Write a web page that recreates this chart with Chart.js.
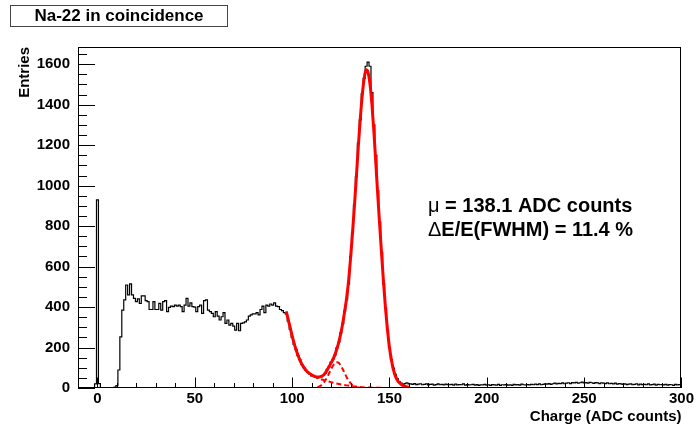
<!DOCTYPE html>
<html><head><meta charset="utf-8">
<script src="https://cdn.jsdelivr.net/npm/chart.js@4.4.1/dist/chart.umd.min.js"></script>
<style>html,body{margin:0;padding:0;background:#fff;}#wrap{width:696px;height:428px;}</style>
</head><body><div id="wrap"><canvas id="c" width="696" height="428"></canvas></div>
<script>
// ---------- data ----------
const xMin = -10, xMax = 300, yMax = 1685;
const xTickLabels = [0, 50, 100, 150, 200, 250, 300];
const yTickLabels = [0, 200, 400, 600, 800, 1000, 1200, 1400, 1600];
// histogram counts, 1 ADC-count bins, bin centres -10 ... 96
const countsLow = [0,0,0,0,0,0,0,0,0, 20,930,22, 0,0,0,0,0,0,0,4,
 12,89,253,385,435,509,460,515,460,443,
 427,440,418,455,455,432,427,388,388,427,
 388,388,418,385,427,432,377,398,405,402,
 410,405,410,402,377,410,443,405,421,402,
 400,377,402,410,369,432,435,385,377,369,
 352,377,355,336,352,372,319,336,311,319,
 306,286,319,283,319,322,327,336,355,361,
 366,366,372,361,388,405,372,410,405,415,
 410,421,405,402,388,382,372];
// bin centres 97 ... 160
const countsPeak = [365,330,290,250,215,190,160,140,115,100,
 88,78,70,60,58,52,50,55,56,64,
 72,92,105,128,142,162,198,226,272,318,
 380,436,515,650,765,905,1045,1210,1325,1455,
 1530,1590,1610,1590,1460,1300,1150,975,820,670,
 515,395,285,200,140,98,68,46,32,24,
 18,22,26,20];
// bin centres 161 ... 300
const countsTail = [20,18,22,17,19,21,16,18,20,15,
 18,19,14,17,20,16,18,15,19,17,
 16,18,14,19,15,17,16,20,14,17,
 15,16,18,14,17,13,16,15,18,14,
 16,13,17,15,14,18,13,16,15,17,
 14,16,13,18,15,17,14,19,16,15,
 17,15,18,16,19,17,20,16,18,21,
 19,22,18,21,24,20,23,22,25,21,
 24,26,22,27,25,28,24,26,29,25,
 27,24,28,26,23,27,25,22,26,24,
 22,25,21,23,20,24,19,22,20,18,
 21,17,19,20,16,18,21,15,19,17,
 18,16,20,15,17,19,14,18,16,17,
 15,18,14,17,16,13,18,15,17,14];
// total fit (solid red), x = 97 ... 160
const fitStart = 97;
const fitTotal = [378,338,298,258,222,190,162,138,118,102,
 89,79,71,65,60,56,54,54,57,63,
 74,89,106,124,142,165,194,228,270,320,
 380,445,530,640,765,900,1045,1195,1330,1445,
 1530,1572,1560,1500,1400,1265,1110,950,800,655,
 515,390,285,200,138,92,60,40,27,18,
 12,8,5,3];
// background component (dashed)
const bgX = [97,100,103,106,109,112,114,116,118,120,122,124,126,128,130,133,136,140,145,150,200];
const bgY = [378,258,162,102,71,54,46,40,34,29,24,20,16,13,10,7,4,2,1,0,0];
// small gaussian component (dashed)
const gX = [113,114,115,116,117,118,119,120,121,122,123,124,125,126,127,128,129,130,131,132,133,134,135,136];
const gY = [4,8,14,24,37,53,73,93,110,123,127,123,110,93,73,53,37,24,14,8,4,2,1,0];
const chartTitle = 'Na-22 in coincidence';
const xTitle = 'Charge (ADC counts)';
const yTitle = 'Entries';
const fitText1 = ['\u03bc', ' = 138.1 ADC counts'];
const fitText2 = ['\u0394', 'E/E(FWHM) = 11.4 %'];

// ---------- build ----------
const counts = [...countsLow, ...countsPeak, ...countsTail];
const histPts = counts.map((v, i) => ({x: xMin + i, y: v}));
const fitPts = fitTotal.map((v, i) => ({x: fitStart + i, y: v}));
const bgPts = bgX.map((x, i) => ({x, y: bgY[i]}));
const gPts = gX.map((x, i) => ({x, y: gY[i]}));

const FONT = '"Liberation Sans", Arial, Helvetica, sans-serif';

const rootAxes = {
  id: 'rootAxes',
  afterDatasetsDraw(chart) {
    const {ctx, chartArea: a, scales: {x, y}} = chart;
    ctx.save();
    ctx.strokeStyle = '#000';
    ctx.lineWidth = 1;
    ctx.strokeRect(Math.round(a.left) + 0.5, Math.round(a.top) + 0.5,
      Math.round(a.right - a.left) - 1, Math.round(a.bottom - a.top) - 1);
    ctx.beginPath();
    for (let v = 0; v <= yMax; v += 50) {
      const py = Math.round(y.getPixelForValue(v)) + 0.5;
      const len = (v % 200 === 0) ? 17 : 9;
      ctx.moveTo(a.left, py); ctx.lineTo(a.left + len, py);
    }
    for (let v = xMin; v <= xMax; v += 10) {
      const px = Math.round(x.getPixelForValue(v)) + 0.5;
      const len = (v % 50 === 0) ? 10.5 : 5;
      ctx.moveTo(px, a.bottom); ctx.lineTo(px, a.bottom - len);
    }
    ctx.stroke();
    ctx.restore();
  },
  afterDraw(chart) {
    const {ctx, chartArea: a} = chart;
    ctx.save();
    ctx.fillStyle = '#fff';
    ctx.fillRect(10, 5, 217, 21);
    ctx.strokeStyle = '#444';
    ctx.lineWidth = 1;
    ctx.strokeRect(10.5, 5.5, 217, 21);
    ctx.fillStyle = '#000';
    ctx.font = 'bold 17px ' + FONT;
    ctx.textAlign = 'center';
    ctx.textBaseline = 'middle';
    ctx.fillText(chartTitle, 119, 16.5);
    ctx.font = 'bold 15px ' + FONT;
    ctx.textAlign = 'right';
    ctx.textBaseline = 'alphabetic';
    ctx.fillText(xTitle, a.right, 421);
    ctx.save();
    ctx.translate(29, a.top);
    ctx.rotate(-Math.PI / 2);
    ctx.textAlign = 'right';
    ctx.fillText(yTitle, 0, 0);
    ctx.restore();
    const drawMixed = (parts, x0, yb) => {
      ctx.textAlign = 'left';
      ctx.font = '20px ' + FONT;
      ctx.fillText(parts[0], x0, yb);
      const w = ctx.measureText(parts[0]).width;
      ctx.font = 'bold 20px ' + FONT;
      ctx.fillText(parts[1], x0 + w, yb);
    };
    ctx.textBaseline = 'alphabetic';
    drawMixed(fitText1, 428, 212);
    drawMixed(fitText2, 428, 236);
    ctx.restore();
  }
};

new Chart(document.getElementById('c'), {
  type: 'line',
  data: {
    datasets: [
      {data: fitPts, borderColor: '#ff0000', borderWidth: 3, pointRadius: 0, fill: false,
       cubicInterpolationMode: 'monotone'},
      {data: gPts, borderColor: '#ff0000', borderWidth: 2, borderDash: [5, 3], pointRadius: 0, fill: false,
       cubicInterpolationMode: 'monotone'},
      {data: bgPts, borderColor: '#ff0000', borderWidth: 2, borderDash: [5, 3], pointRadius: 0, fill: false,
       cubicInterpolationMode: 'monotone'},
      {data: histPts, borderColor: '#000', borderWidth: 1.2, pointRadius: 0, fill: false, stepped: 'middle'}
    ]
  },
  options: {
    responsive: false,
    animation: false,
    events: [],
    layout: {padding: {left: 0, top: 47, right: 14.5, bottom: 0}},
    plugins: {legend: {display: false}, tooltip: {enabled: false}},
    scales: {
      x: {
        type: 'linear', min: xMin, max: xMax,
        grid: {display: false, drawTicks: false},
        border: {display: false},
        ticks: {color: '#000', font: {family: FONT, size: 15, weight: 'bold'}, padding: 2, maxRotation: 0,
                callback: v => String(v)},
        afterBuildTicks: s => { s.ticks = xTickLabels.map(v => ({value: v})); },
        afterFit: s => { s.height = 40; }
      },
      y: {
        type: 'linear', min: 0, max: yMax,
        grid: {display: false, drawTicks: false},
        border: {display: false},
        ticks: {color: '#000', font: {family: FONT, size: 15, weight: 'bold'}, padding: 8,
                callback: v => String(v)},
        afterBuildTicks: s => { s.ticks = yTickLabels.map(v => ({value: v})); },
        afterFit: s => { s.width = 78; }
      }
    }
  },
  plugins: [rootAxes]
});
</script>
</body></html>
